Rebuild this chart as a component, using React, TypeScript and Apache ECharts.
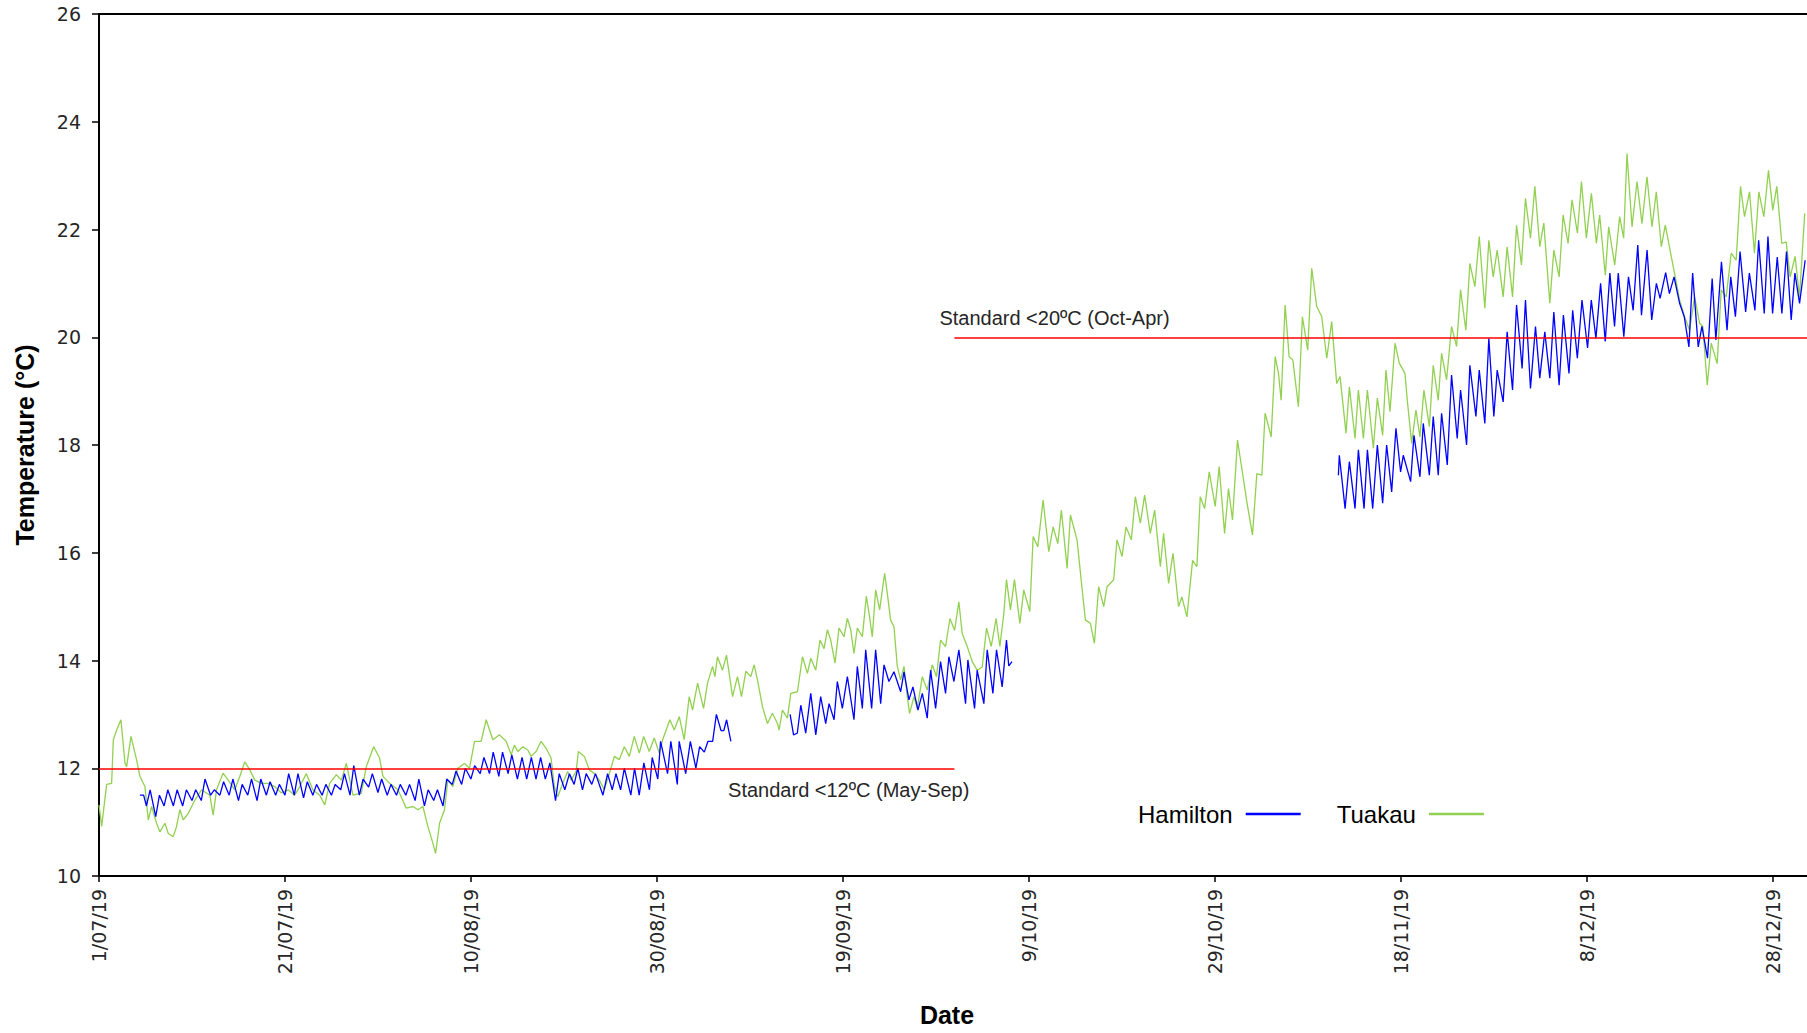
import { useEffect, useRef } from "react";
import * as echarts from "echarts";

// x values are days since 1/07/19
const dateLabels = [
  "1/07/19", "21/07/19", "10/08/19", "30/08/19", "19/09/19",
  "9/10/19", "29/10/19", "18/11/19", "8/12/19", "28/12/19",
];

const hamiltonDays = [
  4.4, 4.8, 5.1, 5.5, 6.1, 6.5, 7.0, 7.4, 8.0, 8.4, 9.0, 9.4, 10.0, 10.4, 11.0, 11.4,
  12.0, 12.4, 13.0, 13.4, 14.0, 14.4, 15.0, 15.4, 16.0, 16.4, 17.0, 17.4, 18.0, 18.4,
  19.0, 19.4, 20.0, 20.4, 21.0, 21.4, 22.0, 22.4, 23.0, 23.4, 24.0, 24.4, 25.0, 25.4,
  26.0, 26.4, 27.0, 27.4, 28.0, 28.4, 29.0, 29.4, 30.0, 30.4, 31.0, 31.4, 32.0, 32.4,
  33.0, 33.4, 34.0, 34.4, 35.0, 35.4, 36.0, 36.4, 37.0, 37.4, 38.0, 38.4, 39.0, 39.4,
  40.0, 40.4, 41.0, 41.4, 42.0, 42.4, 43.0, 43.4, 44.0, 44.4, 45.0, 45.5, 46.0, 46.5,
  47.0, 47.5, 48.0, 48.5, 49.1, 49.5, 50.1, 50.6, 51.1, 51.5, 52.0, 52.4, 53.0, 53.4,
  54.2, 54.7, 55.2, 55.6, 56.1, 56.5, 57.2, 57.6, 58.1, 58.6, 59.2, 59.5, 60.1, 60.4,
  61.15, 61.5, 62.2, 62.4, 63.1, 63.6, 64.2, 64.6, 65.1, 65.5, 66.0, 66.4, 66.9, 67.2,
  67.5, 67.96,
  71,
  74.33, 74.7, 75.1, 75.48, 76.01, 76.55, 77.09, 77.62, 78.16, 78.52, 79.06, 79.41,
  79.95, 80.49, 81.2, 81.56, 82.1, 82.46, 83.1, 83.53, 84.07, 84.43, 84.96, 85.5,
  86.22, 86.58, 87.11, 87.54, 88.08, 88.55, 89.08, 89.44, 89.98, 90.51, 91.05, 91.41,
  91.95, 92.48, 93.2, 93.45, 94.17, 94.45, 95.17, 95.53, 96.14, 96.53, 97.14, 97.6,
  97.85, 98.2,
  115,
  133.3, 133.4, 134.02, 134.48, 135.09, 135.45, 136.06, 136.42, 136.99, 137.49, 138.06,
  138.49, 139.03, 139.49, 139.99, 140.28, 141.07, 141.43, 142.07, 142.43, 143.08, 143.5,
  144.04, 144.4, 145.01, 145.47, 146.08, 146.44, 147.09, 147.44, 148.09, 148.45, 149.05,
  149.48, 150.02, 150.38, 151.02, 151.45, 152.03, 152.46, 153.06, 153.42, 153.96, 154.5,
  154.96, 155.5, 156.04, 156.47, 157.04, 157.5, 158.1, 158.5, 159.0, 159.5, 160.1, 160.5,
  161.0, 161.5, 162.0, 162.5, 163.0, 163.4, 164.0, 164.5, 165.0, 165.5, 165.9, 166.5,
  167.0, 167.5, 167.9, 168.5, 168.9, 169.4, 170.0, 170.5, 171.0, 171.4, 172.0, 172.4,
  173.0, 173.5, 173.9, 174.5, 175.1, 175.5, 176.0, 176.5, 177.1, 177.5, 178.1, 178.5,
  179.1, 179.5, 180.0, 180.5, 181.0, 181.5, 182.0, 182.4, 182.9, 183.5,
];

const hamiltonTemps = [
  11.5, 11.5, 11.3, 11.6, 11.1, 11.5, 11.3, 11.6, 11.3, 11.6, 11.3, 11.6, 11.4, 11.6, 11.4, 11.8,
  11.5, 11.6, 11.5, 11.75, 11.5, 11.8, 11.4, 11.7, 11.5, 11.8, 11.4, 11.8, 11.5, 11.75,
  11.5, 11.7, 11.5, 11.9, 11.5, 11.9, 11.45, 11.75, 11.5, 11.7, 11.5, 11.7, 11.5, 11.7,
  11.6, 11.9, 11.5, 12.05, 11.5, 11.8, 11.65, 11.9, 11.55, 11.8, 11.5, 11.7, 11.5, 11.7,
  11.5, 11.7, 11.4, 11.8, 11.3, 11.6, 11.4, 11.6, 11.3, 11.8, 11.7, 11.95, 11.7, 12.0,
  11.8, 12.05, 11.9, 12.2, 11.9, 12.3, 11.85, 12.3, 11.9, 12.25, 11.8, 12.2, 11.8, 12.2,
  11.8, 12.2, 11.8, 12.1, 11.4, 11.9, 11.6, 11.9, 11.7, 12.0, 11.6, 11.9, 11.7, 11.9,
  11.5, 11.9, 11.6, 11.9, 11.6, 12.0, 11.5, 12.0, 11.5, 12.1, 11.6, 12.2, 11.8, 12.5,
  11.9, 12.5, 11.7, 12.5, 11.9, 12.5, 12.0, 12.4, 12.3, 12.5, 12.5, 13.0, 12.7, 12.7,
  12.9, 12.5,
  null,
  13.0, 12.62, 12.65, 13.17, 12.65, 13.39, 12.62, 13.33, 12.83, 13.2, 12.9, 13.61,
  13.11, 13.7, 12.9, 13.89, 13.11, 14.2, 13.11, 14.2, 13.2, 13.92, 13.61, 13.79,
  13.42, 13.79, 13.27, 13.51, 13.08, 13.39, 12.93, 13.82, 13.11, 13.98, 13.39, 14.07,
  13.61, 14.2, 13.2, 14.01, 13.11, 13.82, 13.2, 14.2, 13.39, 14.2, 13.51, 14.38,
  13.9, 13.98,
  null,
  17.44, 17.81, 16.82, 17.69, 16.82, 17.91, 16.82, 17.91, 16.82, 18.0, 16.92,
  18.0, 17.13, 18.31, 17.5, 17.81, 17.32, 18.18, 17.41, 18.4, 17.44, 18.53,
  17.44, 18.59, 17.63, 19.3, 18.12, 19.02, 18.0, 19.48, 18.53, 19.39, 18.4,
  19.98, 18.53, 19.39, 18.8, 20.1, 19.02, 20.6, 19.42, 20.69, 19.05, 20.2,
  19.24, 20.1, 19.24, 20.47, 19.11, 20.41, 19.33, 20.5, 19.61, 20.69, 19.8, 20.69,
  19.98, 21.0, 19.92, 21.19, 20.2, 21.19, 20.01, 21.12, 20.5, 21.71, 20.41, 21.62,
  20.32, 21.0, 20.72, 21.2, 20.81, 21.12, 20.63, 20.38, 19.82, 21.19, 19.82, 20.2,
  19.61, 21.09, 19.95, 21.4, 20.13, 21.12, 20.38, 21.59, 20.47, 21.19, 20.5, 21.8,
  20.44, 21.87, 20.44, 21.49, 20.44, 21.59, 20.32, 21.19, 20.63, 21.43,
];

const tuakauDays = [
  0, 0.29, 0.82, 1.36, 1.54, 1.9, 2.36, 2.79, 2.97, 3.44, 4.05, 4.4, 4.94, 5.3, 5.66,
  6.19, 6.55, 7.09, 7.45, 7.98, 8.34, 8.7, 9.06, 9.6, 10.31, 11.03, 11.92, 12.28, 12.64,
  13.35, 13.89, 14.61, 15.15, 15.68, 16.22, 16.76, 17.47, 18.19, 18.9, 19.62, 20.34,
  21.05, 21.59, 22.3, 23.0, 23.74, 24.28, 24.81, 25.53, 26.07, 26.6, 27.32, 28.21,
  28.75, 29.54, 30.18, 30.54, 31.26, 32.15, 33.05, 33.76, 34.3, 34.84, 35.37, 35.91,
  36.2, 36.63, 37.16, 37.52, 38.06, 38.6, 39.31, 39.85, 40.39, 41.1, 41.64, 42.36,
  43.07, 43.79, 44.33, 44.68, 45.04, 45.58, 46.12, 46.47, 47.01, 47.55, 48.09, 48.62,
  48.98, 49.34, 49.88, 50.41, 50.77, 51.31, 51.56, 52.2, 52.74, 53.28, 53.81, 54.35,
  54.89, 55.43, 55.96, 56.5, 57.04, 57.57, 58.11, 58.58, 59.18, 59.72, 60.26, 60.62,
  61.4, 61.87, 62.41, 62.94, 63.48, 63.84, 64.38, 65.02, 65.45, 65.99, 66.24, 66.52,
  67.06, 67.49, 68.14, 68.67, 69.1, 69.57, 70.1, 70.46, 70.82, 71.36, 71.9, 72.43,
  72.97, 73.15, 73.51, 74.04, 74.4, 75.12, 75.66, 76.19, 76.55, 77.09, 77.55, 77.98,
  78.34, 78.7, 79.16, 79.59, 80.13, 80.49, 80.85, 81.2, 81.56, 82.1, 82.53, 82.82,
  83.17, 83.53, 83.96, 84.5, 84.78, 85.14, 85.5, 85.86, 86.22, 86.58, 86.93, 87.18,
  87.65, 88.01, 88.55, 89.08, 89.62, 90.08, 90.51, 91.05, 91.52, 92.02, 92.48, 92.84,
  93.38, 93.92, 94.45, 94.99, 95.46, 95.96, 96.49, 96.89, 97.32, 97.6, 98.03, 98.46,
  99.04, 99.46, 100.11, 100.47, 100.97, 101.54, 102.15, 102.62, 103.12, 103.51, 104.12,
  104.48, 105.19, 105.73, 106.09, 106.63, 107.06, 107.52, 108.06, 108.42, 109.13,
  109.49, 110.03, 110.46, 111.03, 111.46, 112.0, 112.46, 113.07, 113.54, 114.15, 114.5,
  115.04, 115.51, 116.11, 116.47, 117.01, 117.62, 118.08, 118.44, 118.91, 119.41,
  120.05, 120.48, 121.06, 121.48, 121.91, 122.45, 123.1, 123.45, 124.06, 124.53,
  125.07, 125.42, 126.07, 126.5, 126.86, 127.14, 127.57, 128.0, 128.4, 129.0, 129.43,
  130.0, 130.43, 130.97, 131.51, 132.05, 132.58, 133.12, 133.48, 134.12, 134.48,
  135.09, 135.45, 135.99, 136.42, 137.06, 137.49, 138.06, 138.42, 138.85, 139.39,
  139.85, 140.46, 140.71, 141.18, 141.64, 142.07, 142.5, 143.08, 143.5, 144.04, 144.4,
  144.94, 145.47, 146.01, 146.44, 147.01, 147.44, 147.98, 148.45, 149.05, 149.48,
  149.95, 150.38, 151.02, 151.45, 152.03, 152.46, 152.99, 153.42, 153.96, 154.43,
  154.96, 155.39, 156.04, 156.47, 157.04, 157.47, 158.0, 158.43, 159.01, 159.44,
  159.97, 160.51, 161.05, 161.4, 162.01, 162.37, 163.02, 163.55, 163.98, 164.34,
  164.88, 165.42, 165.95, 166.49, 167.03, 167.49, 168.03, 168.46, 169.1, 169.53, 170.0,
  170.54, 171.07, 171.61, 172.15, 172.5, 172.97, 173.4, 174.04, 174.47, 175.01, 175.55,
  176.08, 176.55, 176.98, 177.52, 178.05, 178.52, 179.06, 179.56, 180.02, 180.45,
  180.99, 181.46, 181.89, 182.42, 182.89, 183.46,
];

const tuakauTemps = [
  11.32, 10.92, 11.7, 11.72, 12.53, 12.71, 12.9, 12.1, 12.03, 12.59, 12.15, 11.85, 11.66, 11.04, 11.29,
  10.98, 10.82, 10.98, 10.79, 10.73, 10.92, 11.23, 11.04, 11.16, 11.41, 11.6, 11.5, 11.13, 11.6,
  11.91, 11.78, 11.6, 11.85, 12.12, 11.97, 11.78, 11.72, 11.72, 11.66, 11.54, 11.6,
  11.5, 11.66, 11.9, 11.6, 11.5, 11.32, 11.72, 11.88, 11.78, 12.09, 11.5, 11.54,
  12.03, 12.4, 12.19, 11.85, 11.72, 11.6, 11.26, 11.29, 11.23, 11.29, 10.92, 10.61,
  10.42, 10.98, 11.23, 11.78, 11.66, 12.0, 12.09, 12.0, 12.5, 12.5, 12.9, 12.53,
  12.62, 12.5, 12.25, 12.43, 12.31, 12.4, 12.34, 12.22, 12.31, 12.5, 12.37, 12.19,
  11.66, 11.47, 11.72, 11.94, 11.78, 11.94, 12.31, 12.22, 11.97, 11.9, 11.78, 11.6,
  11.9, 12.22, 12.16, 12.4, 12.22, 12.59, 12.28, 12.59, 12.31, 12.56, 12.28, 12.53,
  12.9, 12.71, 12.96, 12.53, 13.33, 13.08, 13.58, 13.11, 13.58, 13.89, 13.7, 14.07,
  13.82, 14.1, 13.33, 13.7, 13.33, 13.8, 13.7, 13.92, 13.64, 13.14, 12.83, 13.02,
  12.83, 12.71, 13.08, 12.93, 13.39, 13.42, 14.07, 13.76, 14.04, 13.82, 14.38, 14.22,
  14.57, 14.38, 13.95, 14.6, 14.44, 14.78, 14.57, 14.13, 14.6, 14.44, 15.19, 14.88,
  14.44, 15.31, 14.94, 15.62, 15.25, 14.75, 14.63, 13.89, 13.64, 13.89, 13.33, 13.02,
  13.33, 13.11, 13.7, 13.45, 13.92, 13.7, 14.38, 14.26, 14.78, 14.56, 15.09, 14.5,
  14.26, 13.98, 13.82, 13.88, 14.6, 14.26, 14.78, 14.26, 14.88, 15.5, 14.94, 15.5,
  14.69, 15.31, 14.91, 16.3, 16.11, 16.98, 16.02, 16.48, 16.17, 16.79, 15.71,
  16.7, 16.24, 15.34, 14.75, 14.69, 14.32, 15.37, 15.0, 15.37, 15.5,
  16.24, 15.93, 16.48, 16.24, 17.04, 16.55, 17.07, 16.36, 16.79, 15.74, 16.36,
  15.43, 15.99, 15.0, 15.18, 14.81, 15.86, 15.74, 17.04, 16.82, 17.5,
  16.86, 17.6, 16.36, 17.19, 16.61, 18.09, 17.35, 16.95, 16.33, 17.47,
  17.44, 18.59, 18.15, 19.64, 19.33, 18.83, 20.6, 19.64, 19.58, 18.71, 20.38,
  19.76, 21.28, 20.57, 20.38, 19.61, 20.29, 19.14, 19.27, 18.22, 19.08,
  18.12, 19.02, 18.12, 19.02, 17.94, 18.87, 18.18, 19.39, 18.62, 19.89,
  19.52, 19.33, 18.83, 18.03, 18.65, 18.15, 19.02, 18.34, 19.48, 18.83, 19.7,
  19.21, 20.2, 19.83, 20.88, 20.13, 21.37, 20.94, 21.87, 20.54, 21.8,
  21.12, 21.62, 20.75, 21.68, 20.75, 22.08, 21.34, 22.58, 21.84, 22.8,
  21.68, 22.12, 20.63, 21.62, 21.12, 22.27, 21.74, 22.55, 21.93, 22.89,
  21.84, 22.67, 21.74, 22.27, 21.15, 22.05, 21.34, 22.24, 21.84, 23.41,
  22.05, 22.89, 22.11, 22.98, 22.05, 22.7, 21.68, 22.08, 21.5, 21.12, 20.69,
  20.38, 20.13, 20.75, 20.26, 20.2, 19.11, 19.89, 19.51, 20.88, 20.75, 21.56,
  21.43, 22.8, 22.24, 22.7, 21.56, 22.7, 22.24, 23.1, 22.36, 22.8,
  21.74, 21.77, 21.12, 21.5, 20.75, 22.3,
];

// water temperature standards: value, start day, end day
const standardLabels = ["Standard <12ºC (May-Sep)", "Standard <20ºC (Oct-Apr)"];
const standardValues = [12, 20];
const standardFrom = [0, 92];
const standardTo = [92, 183.7];

const X_MAX = 183.7;

const App = () => {
  const chartRef = useRef<HTMLDivElement>(null);

  useEffect(() => {
    if (!chartRef.current) return;
    const chart = echarts.init(chartRef.current, undefined, { renderer: "svg" });

    const hamiltonData = hamiltonDays.map((d, i) => [d, hamiltonTemps[i]]);
    const tuakauData = tuakauDays.map((d, i) => [d, tuakauTemps[i]]);

    const tickFont = "DejaVu Sans";
    const textFont = "Liberation Sans";

    chart.setOption({
      animation: false,
      backgroundColor: "#ffffff",
      grid: { left: 99, top: 14, right: 0, bottom: 157 },
      legend: {
        data: ["Hamilton", "Tuakau"],
        left: 1133,
        top: 797,
        align: "right",
        icon: "rect",
        itemWidth: 55,
        itemHeight: 2.5,
        itemGap: 36,
        textStyle: {
          fontFamily: textFont,
          fontSize: 24,
          color: "#000",
          padding: [0, 8, 0, 0],
        },
      },
      xAxis: [
        {
          type: "value",
          min: 0,
          max: X_MAX,
          interval: 20,
          name: "Date",
          nameLocation: "middle",
          nameGap: 126,
          nameTextStyle: {
            fontFamily: textFont,
            fontSize: 25,
            fontWeight: "bold",
            color: "#000",
            padding: [0, 12, 0, 0],
          },
          axisLine: { lineStyle: { color: "#000", width: 2 } },
          axisTick: { length: 6, lineStyle: { color: "#000", width: 1.5 } },
          splitLine: { show: false },
          axisLabel: {
            rotate: 90,
            margin: 13,
            fontFamily: tickFont,
            fontSize: 19,
            color: "#262626",
            showMaxLabel: false,
            formatter: (v: number) => (v % 20 === 0 ? dateLabels[v / 20] ?? "" : ""),
          },
        },
        {
          type: "value",
          position: "top",
          min: 0,
          max: X_MAX,
          axisLine: { show: true, lineStyle: { color: "#000", width: 2 } },
          axisTick: { show: false },
          axisLabel: { show: false },
          splitLine: { show: false },
        },
      ],
      yAxis: {
        type: "value",
        min: 10,
        max: 26,
        interval: 2,
        name: "Temperature (°C)",
        nameLocation: "middle",
        nameRotate: 90,
        nameGap: 62,
        nameTextStyle: { fontFamily: textFont, fontSize: 25, fontWeight: "bold", color: "#000" },
        axisLine: { show: true, lineStyle: { color: "#000", width: 2 } },
        axisTick: { show: true, length: 7, lineStyle: { color: "#000", width: 1.5 } },
        splitLine: { show: false },
        axisLabel: { margin: 18, fontFamily: tickFont, fontSize: 19, color: "#262626" },
      },
      series: [
        {
          name: "Hamilton",
          type: "line",
          data: hamiltonData,
          showSymbol: false,
          symbol: "none",
          connectNulls: false,
          color: "#0000ff",
          lineStyle: { color: "#0000ff", width: 1.3 },
          z: 3,
        },
        {
          name: "Tuakau",
          type: "line",
          data: tuakauData,
          showSymbol: false,
          symbol: "none",
          color: "#92d050",
          lineStyle: { color: "#92d050", width: 1.3 },
          z: 2,
        },
        {
          name: "Standards",
          type: "line",
          data: [],
          markLine: {
            silent: true,
            symbol: "none",
            lineStyle: { color: "#ff0000", width: 1.5, type: "solid" },
            label: { fontFamily: textFont, fontSize: 20, color: "#262626" },
            data: standardValues.map((v, i) => [
              {
                coord: [standardFrom[i], v],
                label: {
                  formatter: standardLabels[i],
                  position: i === 0 ? "insideEndBottom" : "insideStartTop",
                  distance: i === 0 ? [-15, 12] : [-15, 9],
                },
              },
              { coord: [standardTo[i], v] },
            ]),
          },
          z: 4,
        },
      ],
    });

    return () => {
      chart.dispose();
    };
  }, []);

  return (
    <div
      ref={chartRef}
      style={{ position: "fixed", left: 0, top: 0, width: "1807px", height: "1033px" }}
    />
  );
};

export default App;
